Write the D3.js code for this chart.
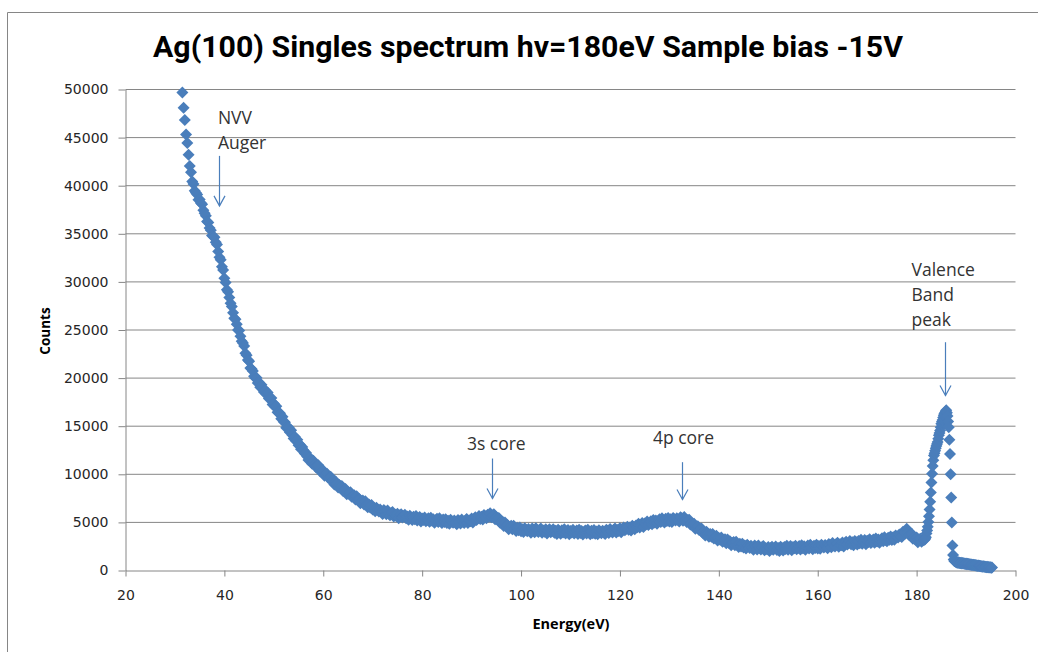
<!DOCTYPE html>
<html>
<head>
<meta charset="utf-8">
<script src="https://cdn.jsdelivr.net/npm/d3@7.9.0/dist/d3.min.js"></script>
<style>
  html, body { margin: 0; padding: 0; background: #fff; }
  svg { display: block; }
</style>
</head>
<body>
<svg id="chart" width="1038" height="652"></svg>
<script>
// Ag(100) singles spectrum, counts every 0.25 eV from 31.5 eV
const energyStart = 31.5;
const energyStep = 0.25;
const counts = [
  // 31.5 - 36.25
  49700, 48100, 46840, 45320, 44430, 43220, 42050, 41400, 40440, 40180, 39470, 39260, 39090, 38530, 38560, 38210, 38060, 37440, 37140, 36870,
  // 36.5 - 41.25
  36270, 36170, 35600, 35380, 34820, 34710, 34630, 34110, 33880, 33170, 32550, 32300, 31580, 31250, 30380, 29950, 29190, 28980, 28380, 27770,
  // 41.5 - 46.25
  27450, 26800, 26210, 26110, 25610, 25010, 24950, 24340, 23830, 23640, 23330, 22590, 22370, 21880, 21740, 21040, 20950, 20750, 20200, 20020,
  // 46.5 - 51.25
  20030, 19500, 19530, 19040, 19300, 18980, 18550, 18740, 18330, 18500, 17890, 17910, 17920, 17260, 17370, 17010, 17070, 16460, 16380, 16350,
  // 51.5 - 56.25
  15770, 15980, 15450, 15420, 14830, 14880, 14870, 14360, 14570, 14080, 13730, 13900, 13470, 13600, 13030, 13090, 12610, 12830, 12510, 12160,
  // 56.5 - 61.25
  12230, 11850, 11490, 11740, 11460, 11090, 11400, 11030, 10770, 10920, 10930, 10380, 10490, 10260, 10400, 9850, 10060, 10070, 9650, 9670,
  // 61.5 - 66.25
  9740, 9280, 9360, 8930, 9250, 8980, 8620, 8880, 8550, 8790, 8270, 8370, 8460, 7930, 8170, 7940, 8130, 7660, 7710, 7820,
  // 66.5 - 71.25
  7380, 7720, 7330, 7440, 6990, 7180, 7270, 6870, 7190, 6810, 6570, 6860, 6550, 6800, 6350, 6530, 6170, 6530, 6340, 6130,
  // 71.5 - 76.25
  6330, 6100, 5880, 6280, 6130, 5840, 6230, 5930, 5750, 5980, 6070, 5610, 5810, 5660, 5900, 5440, 5740, 5850, 5520, 5630,
  // 76.5 - 81.25
  5800, 5430, 5610, 5270, 5690, 5520, 5250, 5590, 5340, 5660, 5210, 5380, 5550, 5090, 5400, 5250, 5520, 5120, 5250, 5430,
  // 81.5 - 86.25
  5060, 5480, 5160, 5340, 4960, 5220, 5380, 5050, 5430, 5120, 4940, 5290, 5030, 5340, 4940, 5170, 4865, 5270, 5125, 4960,
  // 86.5 - 91.25
  5190, 4995, 4810, 5250, 5130, 4885, 5310, 5060, 4930, 5210, 5350, 4945, 5200, 5110, 5400, 5000, 5360, 5530, 5260, 5440,
  // 91.5 - 96.25 (3s core)
  5670, 5360, 5590, 5300, 5770, 5650, 5420, 5800, 5590, 5950, 5540, 5730, 5860, 5320, 5540, 5290, 5460, 4960, 4990, 5080,
  // 96.5 - 101.25
  4630, 4980, 4600, 4720, 4290, 4510, 4640, 4280, 4640, 4310, 4110, 4450, 4180, 4480, 4070, 4300, 3990, 4390, 4240, 4070,
  // 101.5 - 106.25
  4310, 4115, 3930, 4365, 4240, 3985, 4400, 4135, 3990, 4245, 4360, 3925, 4150, 4025, 4280, 3845, 4160, 4285, 3970, 4105,
  // 106.5 - 111.25
  4290, 3935, 4130, 3805, 4240, 4085, 3830, 4185, 3950, 4285, 3850, 4035, 4220, 3775, 4100, 3955, 4230, 3835, 3970, 4160,
  // 111.5 - 116.25
  3795, 4225, 3910, 4100, 3730, 4000, 4170, 3850, 4240, 3940, 3770, 4130, 3880, 4205, 3815, 4060, 3760, 4175, 4040, 3885,
  // 116.5 - 121.25
  4140, 3960, 3790, 4240, 4130, 3890, 4325, 4080, 3955, 4230, 4365, 3950, 4200, 4100, 4380, 3970, 4310, 4460, 4175, 4340,
  // 121.5 - 126.25
  4555, 4230, 4460, 4170, 4640, 4520, 4300, 4690, 4495, 4870, 4475, 4700, 4925, 4520, 4885, 4780, 5095, 4740, 4910, 5130,
  // 126.5 - 131.25 (4p core)
  4800, 5260, 4980, 5195, 4850, 5140, 5330, 5030, 5440, 5155, 5000, 5375, 5140, 5470, 5090, 5340, 5050, 5470, 5340, 5185,
  // 131.5 - 136.25
  5440, 5260, 5090, 5540, 5420, 5160, 5550, 5250, 5050, 5240, 5280, 4770, 4930, 4710, 4870, 4340, 4560, 4600, 4200, 4250,
  // 136.5 - 141.25
  4360, 3920, 4040, 3650, 4030, 3810, 3500, 3800, 3510, 3800, 3320, 3460, 3600, 3110, 3390, 3200, 3430, 3000, 3090, 3240,
  // 141.5 - 146.25
  2840, 3230, 2880, 3030, 2620, 2850, 2970, 2620, 2980, 2640, 2440, 2770, 2500, 2790, 2380, 2600, 2280, 2670, 2510, 2330,
  // 146.5 - 151.25
  2570, 2360, 2160, 2590, 2455, 2190, 2600, 2330, 2180, 2430, 2540, 2100, 2325, 2200, 2455, 2020, 2340, 2470, 2160, 2300,
  // 151.5 - 156.25
  2490, 2140, 2345, 2030, 2475, 2330, 2085, 2450, 2225, 2570, 2145, 2340, 2535, 2100, 2435, 2300, 2585, 2200, 2345, 2540,
  // 156.5 - 161.25
  2185, 2620, 2315, 2510, 2145, 2420, 2595, 2280, 2675, 2380, 2215, 2580, 2340, 2670, 2290, 2540, 2250, 2670, 2540, 2390,
  // 161.5 - 166.25
  2650, 2470, 2305, 2760, 2655, 2420, 2855, 2610, 2485, 2760, 2895, 2480, 2730, 2630, 2910, 2500, 2840, 2990, 2700, 2860,
  // 166.5 - 171.25
  3060, 2720, 2930, 2620, 3070, 2930, 2690, 3060, 2840, 3190, 2770, 2970, 3170, 2740, 3080, 2950, 3240, 2860, 3015, 3220,
  // 171.5 - 176.25
  2875, 3320, 3025, 3230, 2875, 3160, 3350, 3050, 3460, 3180, 3030, 3410, 3190, 3540, 3180, 3450, 3190, 3640, 3540, 3430,
  // 176.5 - 181.25
  3730, 3600, 3490, 4020, 4000, 3850, 4330, 3970, 3700, 3830, 3830, 3300, 3430, 3230, 3420, 2940, 3220, 3310, 2980, 3120
];

// valence band region, read at finer 0.125 eV spacing from 181.5 eV
const valenceStart = 181.5;
const valenceStep = 0.125;
const valenceCounts = [
  // 181.5 - 182.375
  3230, 3200, 3300, 3450, 3850, 4150, 4550, 5050,
  // 182.5 - 183.375
  5650, 6350, 7150, 8100, 9150, 10050, 10850, 11450,
  // 183.5 - 184.375
  11950, 12200, 12450, 12700, 12950, 13150, 13350, 13700,
  // 184.5 - 185.375
  14050, 14300, 14550, 14900, 15250, 15450, 15650, 15900,
  // 185.5 - 186.375
  16150, 16300, 16400, 16550, 16650, 16400, 16050, 15500,
  // 186.5 - 187.375
  14900, 13600, 12100, 10000, 7600, 5000, 2600, 1600,
  // 187.5 - 188.375
  1150, 1000, 950, 900, 880, 820, 850, 790,
  // 188.5 - 189.375
  860, 780, 810, 760, 800, 740, 770, 720,
  // 189.5 - 190.375
  760, 700, 730, 680, 720, 660, 690, 640,
  // 190.5 - 191.375
  680, 620, 650, 600, 640, 580, 610, 560,
  // 191.5 - 192.375
  600, 540, 570, 520, 560, 500, 530, 480,
  // 192.5 - 193.375
  520, 460, 490, 440, 480, 420, 450, 400,
  // 193.5 - 194.375
  440, 380, 410, 360, 400, 340, 380, 330,
  // 194.5 - 195.25
  360, 310, 350, 300, 330, 290, 310
];

const xTicks = [20, 40, 60, 80, 100, 120, 140, 160, 180, 200];
const yTicks = [0, 5000, 10000, 15000, 20000, 25000, 30000, 35000, 40000, 45000, 50000];

// arrow annotations: energy of the arrow, counts at its tail and head
const noteLabels = [["NVV", "Auger"], ["3s core"], ["4p core"], ["Valence", "Band", "peak"]];
const noteEnergy = [38.85, 94.2, 132.6, 185.8];
const noteFrom = [43100, 11640, 11260, 23730];
const noteTo = [37900, 7480, 7380, 18190];

const titleText = "Ag(100) Singles spectrum hv=180eV Sample bias -15V";

const svg = d3.select("#chart");
const gray = "#868686";
const blue = "#4a7ebb";

const x = d3.scaleLinear().domain([20, 200]).range([125.5, 1015.5]);
const y = d3.scaleLinear().domain([0, 50000]).range([570.5, 89.5]);

svg.append("rect").attr("width", 1038).attr("height", 652).attr("fill", "#fff");

// chart area border (cropped at right and bottom)
svg.append("path")
  .attr("d", "M7.5,660V12.5H1045")
  .attr("fill", "none")
  .attr("stroke", gray);

// title
svg.append("text")
  .attr("x", 528).attr("y", 57)
  .attr("text-anchor", "middle")
  .attr("textLength", 750)
  .attr("lengthAdjust", "spacingAndGlyphs")
  .style("font-family", "Roboto, 'Open Sans', sans-serif")
  .style("font-weight", "bold")
  .style("font-size", "29px")
  .attr("fill", "#000")
  .text(titleText);

// horizontal grid
svg.append("g")
  .selectAll("line")
  .data(yTicks.filter(d => d > 0))
  .enter().append("line")
  .attr("x1", x(20)).attr("x2", x(200))
  .attr("y1", d => y(d)).attr("y2", d => y(d))
  .attr("stroke", gray);

const tickFont = "'DejaVu Sans', Verdana, sans-serif";

const yAxis = svg.append("g")
  .attr("transform", `translate(${x(20)},0)`)
  .call(d3.axisLeft(y).tickValues(yTicks).tickFormat(d3.format("d"))
    .tickSize(7).tickSizeOuter(0).tickPadding(10));

const xAxis = svg.append("g")
  .attr("transform", `translate(0,${y(0)})`)
  .call(d3.axisBottom(x).tickValues(xTicks).tickFormat(d3.format("d"))
    .tickSize(6).tickSizeOuter(0).tickPadding(14));

[yAxis, xAxis].forEach(g => {
  g.select(".domain").attr("stroke", gray);
  g.selectAll(".tick line").attr("stroke", gray);
  g.selectAll(".tick text")
    .style("font-family", tickFont)
    .style("font-size", "14px")
    .attr("fill", "#262626");
});

// axis titles
svg.append("text")
  .attr("x", 571).attr("y", 629)
  .attr("text-anchor", "middle")
  .style("font-family", "'Open Sans', sans-serif")
  .style("font-weight", "bold")
  .style("font-size", "14.5px")
  .attr("fill", "#000")
  .text("Energy(eV)");

svg.append("text")
  .attr("transform", "translate(50,331) rotate(-90)")
  .attr("text-anchor", "middle")
  .style("font-family", "'Open Sans', sans-serif")
  .style("font-weight", "bold")
  .style("font-size", "13.5px")
  .attr("fill", "#000")
  .text("Counts");

// spectrum as diamond markers
const spectrum = counts.map((c, i) => ({ energy: energyStart + i * energyStep, count: c }))
  .concat(valenceCounts.map((c, i) => ({ energy: valenceStart + i * valenceStep, count: c })));
const r = 6;
const diamond = `M0,${-r}L${r},0L0,${r}L${-r},0Z`;

svg.append("g")
  .selectAll("path")
  .data(spectrum)
  .enter().append("path")
  .attr("d", diamond)
  .attr("transform", d => `translate(${x(d.energy)},${y(d.count)})`)
  .attr("fill", blue);

// annotations
const textDx = [-1.6, -25.6, -29.6, -34];
const textDy = [-6.7, -8.7, -17.7, -16.7];
const lineGap = 25;

const notes = svg.append("g");
noteLabels.forEach((lines, i) => {
  const ax = Math.round(x(noteEnergy[i])) + 0.5;
  const top = y(noteFrom[i]);
  const tip = y(noteTo[i]);
  notes.append("line")
    .attr("x1", ax).attr("x2", ax)
    .attr("y1", top).attr("y2", tip)
    .attr("stroke", blue).attr("stroke-width", 1.2);
  notes.append("path")
    .attr("d", `M${ax - 5.5},${tip - 10}L${ax},${tip}L${ax + 5.5},${tip - 10}`)
    .attr("fill", "none")
    .attr("stroke", blue).attr("stroke-width", 1.2);
  lines.forEach((t, j) => {
    notes.append("text")
      .attr("x", ax + textDx[i])
      .attr("y", top + textDy[i] - (lines.length - 1 - j) * lineGap)
      .style("font-family", "'Open Sans', sans-serif")
      .style("font-size", "17.5px")
      .attr("fill", "#333")
      .text(t);
  });
});
</script>
</body>
</html>
